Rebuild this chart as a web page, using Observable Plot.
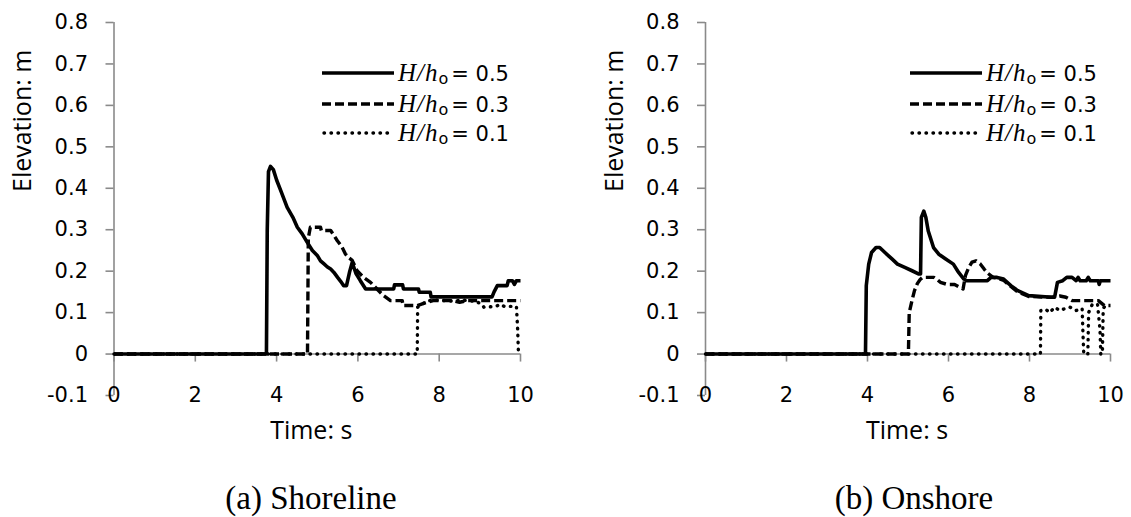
<!DOCTYPE html>
<html>
<head>
<meta charset="utf-8">
<script src="https://cdn.jsdelivr.net/npm/d3@7"></script>
<script src="https://cdn.jsdelivr.net/npm/@observablehq/plot@0.6"></script>
<style>
  html, body { margin: 0; padding: 0; background: #fff; }
  body { position: relative; width: 1131px; height: 517px; overflow: hidden; font-family: "DejaVu Sans", sans-serif; }
  .panel { position: absolute; top: 0; }
  .legend { position: absolute; font-family: "DejaVu Sans", sans-serif; font-size: 21px; color: #000; }
  .legend .row { position: absolute; left: 0; height: 30px; display: flex; align-items: center; white-space: nowrap; }
  .legend svg { display: block; margin-right: 4px; }
  .legend i { font-family: "Liberation Serif", serif; font-size: 25px; letter-spacing: 1px; }
  .legend sub { font-size: 16px; vertical-align: -3px; margin-right: 3px; }
  .caption { position: absolute; top: 482px; width: 300px; text-align: center; font-family: "Liberation Serif", serif; font-size: 33px; line-height: 33px; color: #000; }
</style>
</head>
<body>
<script>
// ---------- data ----------
const seriesLabels = ["0.5", "0.3", "0.1"];
const xTicks = [0, 2, 4, 6, 8, 10];
const yTicks = [-0.1, 0, 0.1, 0.2, 0.3, 0.4, 0.5, 0.6, 0.7, 0.8];
const panelTitles = ["(a) Shoreline", "(b) Onshore"];

// (a) Shoreline
const shoreT05 = [0, 3.75, 3.77, 3.80, 3.85, 3.92, 4.00, 4.10, 4.26, 4.40, 4.51, 4.63, 4.75, 4.88, 5.00, 5.08, 5.16, 5.25, 5.33, 5.41, 5.50, 5.58, 5.65, 5.72, 5.80, 5.86, 5.95, 6.06, 6.19, 6.88, 6.90, 7.10, 7.12, 7.49, 7.51, 7.78, 7.80, 9.30, 9.35, 9.43, 9.67, 9.70, 9.80, 9.85, 9.90, 10];
const shoreY05 = [0, 0, 0.30, 0.44, 0.453, 0.445, 0.42, 0.395, 0.354, 0.33, 0.306, 0.29, 0.27, 0.25, 0.238, 0.225, 0.218, 0.21, 0.205, 0.197, 0.185, 0.175, 0.165, 0.165, 0.20, 0.221, 0.195, 0.177, 0.157, 0.157, 0.167, 0.167, 0.157, 0.157, 0.149, 0.149, 0.138, 0.138, 0.15, 0.165, 0.165, 0.177, 0.177, 0.168, 0.177, 0.177];
const shoreT03 = [0, 4.76, 4.78, 4.83, 5.08, 5.10, 5.33, 5.42, 5.49, 5.60, 5.69, 5.78, 5.86, 5.98, 6.14, 6.31, 6.47, 6.63, 6.80, 7.09, 7.11, 7.46, 7.55, 7.70, 7.85, 8.0, 8.3, 8.5, 8.7, 9.0, 9.3, 9.6, 10];
const shoreY03 = [0, 0, 0.28, 0.306, 0.306, 0.298, 0.298, 0.285, 0.274, 0.26, 0.242, 0.232, 0.226, 0.201, 0.185, 0.173, 0.157, 0.141, 0.129, 0.129, 0.117, 0.117, 0.12, 0.125, 0.129, 0.129, 0.129, 0.125, 0.129, 0.129, 0.129, 0.129, 0.129];
const shoreT01 = [0, 7.46, 7.47, 7.55, 7.65, 7.80, 8.0, 8.3, 8.6, 8.9, 9.05, 9.10, 9.4, 9.5, 9.6, 9.9, 9.93, 9.95];
const shoreY01 = [0, 0, 0.113, 0.118, 0.125, 0.13, 0.13, 0.128, 0.13, 0.127, 0.12, 0.113, 0.115, 0.12, 0.115, 0.115, 0.06, 0];

// (b) Onshore
const onT05 = [0, 3.95, 3.97, 4.03, 4.10, 4.21, 4.30, 4.43, 4.52, 4.61, 4.74, 4.92, 5.10, 5.27, 5.31, 5.33, 5.39, 5.44, 5.50, 5.63, 5.76, 5.94, 6.12, 6.25, 6.38, 6.45, 6.96, 7.05, 7.20, 7.36, 7.54, 7.71, 7.98, 8.55, 8.62, 8.69, 8.82, 8.92, 9.05, 9.15, 9.20, 9.25, 9.40, 9.45, 9.50, 9.70, 9.72, 9.75, 10];
const onY05 = [0, 0, 0.165, 0.217, 0.245, 0.257, 0.257, 0.245, 0.237, 0.229, 0.217, 0.209, 0.201, 0.193, 0.193, 0.33, 0.345, 0.33, 0.297, 0.257, 0.241, 0.229, 0.217, 0.197, 0.181, 0.177, 0.177, 0.185, 0.185, 0.181, 0.165, 0.153, 0.141, 0.137, 0.137, 0.173, 0.177, 0.185, 0.185, 0.177, 0.185, 0.177, 0.177, 0.185, 0.177, 0.177, 0.168, 0.177, 0.177];
const onT03 = [0, 5.01, 5.03, 5.10, 5.16, 5.23, 5.30, 5.36, 5.64, 5.72, 5.80, 5.97, 6.15, 6.30, 6.36, 6.42, 6.50, 6.58, 6.68, 6.78, 6.88, 6.97, 7.10, 7.20, 7.36, 7.54, 7.71, 7.98, 8.55, 8.75, 8.90, 9.05, 9.30, 9.50, 9.70, 9.85, 9.90, 10];
const onY03 = [0, 0, 0.10, 0.13, 0.153, 0.17, 0.18, 0.185, 0.185, 0.18, 0.173, 0.168, 0.168, 0.16, 0.157, 0.19, 0.209, 0.222, 0.225, 0.218, 0.205, 0.195, 0.185, 0.183, 0.178, 0.163, 0.150, 0.139, 0.137, 0.14, 0.137, 0.129, 0.129, 0.129, 0.129, 0.117, 0.117, 0.117];
const onT01 = [0, 8.27, 8.28, 8.40, 8.50, 8.62, 8.75, 8.88, 9.00, 9.15, 9.30, 9.32, 9.34, 9.44, 9.46, 9.55, 9.68, 9.74, 9.76, 9.80, 9.82, 9.90];
const onY01 = [0, 0, 0.105, 0.108, 0.100, 0.113, 0.105, 0.11, 0.113, 0.105, 0.11, 0.05, 0, 0, 0.10, 0.12, 0.12, 0.06, 0, 0, 0.11, 0.12];

// ---------- styles ----------
const axisGray = "#8a8a8a";
const lineStyles = [
  {strokeWidth: 3.6, strokeDasharray: null, cap: "butt"},
  {strokeWidth: 3.4, strokeDasharray: "9,4", cap: "butt"},
  {strokeWidth: 3.4, strokeDasharray: "0.5,6.5", cap: "round"}
];

function toRows(ts, ys) { return ts.map((t, i) => ({t, y: ys[i]})); }

function makePanel(series, cfg) {
  const lines = [];
  for (let k = series.length - 1; k >= 0; k--) {
    const st = lineStyles[k];
    lines.push(Plot.line(series[k], {
      x: "t", y: "y", stroke: "#000",
      strokeWidth: st.strokeWidth,
      strokeDasharray: st.strokeDasharray || undefined,
      strokeLinecap: st.cap,
      strokeLinejoin: "round"
    }));
  }
  return Plot.plot({
    width: cfg.width, height: 450,
    marginLeft: cfg.marginLeft, marginRight: cfg.marginRight,
    marginTop: 22, marginBottom: 55,
    x: {domain: [0, 10], axis: null},
    y: {domain: [-0.1, 0.8], axis: null},
    style: {fontFamily: "DejaVu Sans, sans-serif", fontSize: "21px", color: "#000", background: "#fff", overflow: "visible"},
    marks: [
      Plot.ruleY([0], {stroke: axisGray, strokeWidth: 1.6}),
      Plot.ruleX([0], {stroke: axisGray, strokeWidth: 1.6}),
      Plot.axisY({ticks: yTicks, tickSize: 8, tickPadding: 18, stroke: axisGray, strokeWidth: 1.6,
                  tickFormat: d => d === 0 ? "0" : d.toFixed(1), label: null}),
      Plot.ruleX(xTicks, {x: d => d, y1: 0, y2: 0, insetBottom: -8, stroke: axisGray, strokeWidth: 1.6}),
      Plot.text(xTicks, {x: d => d, y: -0.1, text: d => String(d), lineAnchor: "middle", fill: "#000"}),
      Plot.text(["Time: s"], {frameAnchor: "bottom", dx: cfg.xLabelDx, dy: 35, lineAnchor: "middle",
                              fontFamily: "Open Sans, sans-serif", fontSize: 25, fill: "#000"}),
      Plot.text(["Elevation: m"], {frameAnchor: "left", rotate: -90, dx: -91, dy: -17, lineAnchor: "middle",
                                   fontFamily: "Open Sans, sans-serif", fontSize: 25, fill: "#000"}),
      ...lines
    ]
  });
}

function makeLegend(left, top) {
  const div = document.createElement("div");
  div.className = "legend";
  div.style.left = left + "px";
  div.style.top = top + "px";
  const rowTops = [0, 31, 60];
  seriesLabels.forEach((lab, k) => {
    const row = document.createElement("div");
    row.className = "row";
    row.style.top = rowTops[k] + "px";
    const st = lineStyles[k];
    row.innerHTML =
      `<svg width="72" height="10"><line x1="${st.cap === "round" ? 2 : 0}" x2="72" y1="5" y2="5" stroke="#000" stroke-width="${st.strokeWidth}" stroke-linecap="${st.cap}"` +
      (st.strokeDasharray ? ` stroke-dasharray="${st.strokeDasharray}"` : "") +
      `/></svg><span><i>H</i><i>/</i><i>h</i><sub>o</sub>= ${lab}</span>`;
    div.appendChild(row);
  });
  return div;
}

const cfgs = [
  {left: 0, width: 565, marginLeft: 113.5, marginRight: 45, xLabelDx: -6,
   series: [toRows(shoreT05, shoreY05), toRows(shoreT03, shoreY03), toRows(shoreT01, shoreY01)],
   legendLeft: 322, captionCenter: 311},
  {left: 565, width: 566, marginLeft: 140, marginRight: 21, xLabelDx: -1,
   series: [toRows(onT05, onY05), toRows(onT03, onY03), toRows(onT01, onY01)],
   legendLeft: 910, captionCenter: 914}
];

cfgs.forEach((c, idx) => {
  const wrap = document.createElement("div");
  wrap.className = "panel";
  wrap.style.left = c.left + "px";
  wrap.appendChild(makePanel(c.series, c));
  document.body.appendChild(wrap);
  document.body.appendChild(makeLegend(c.legendLeft, 58));
  const cap = document.createElement("div");
  cap.className = "caption";
  cap.style.left = (c.captionCenter - 150) + "px";
  cap.textContent = panelTitles[idx];
  document.body.appendChild(cap);
});
</script>
</body>
</html>
